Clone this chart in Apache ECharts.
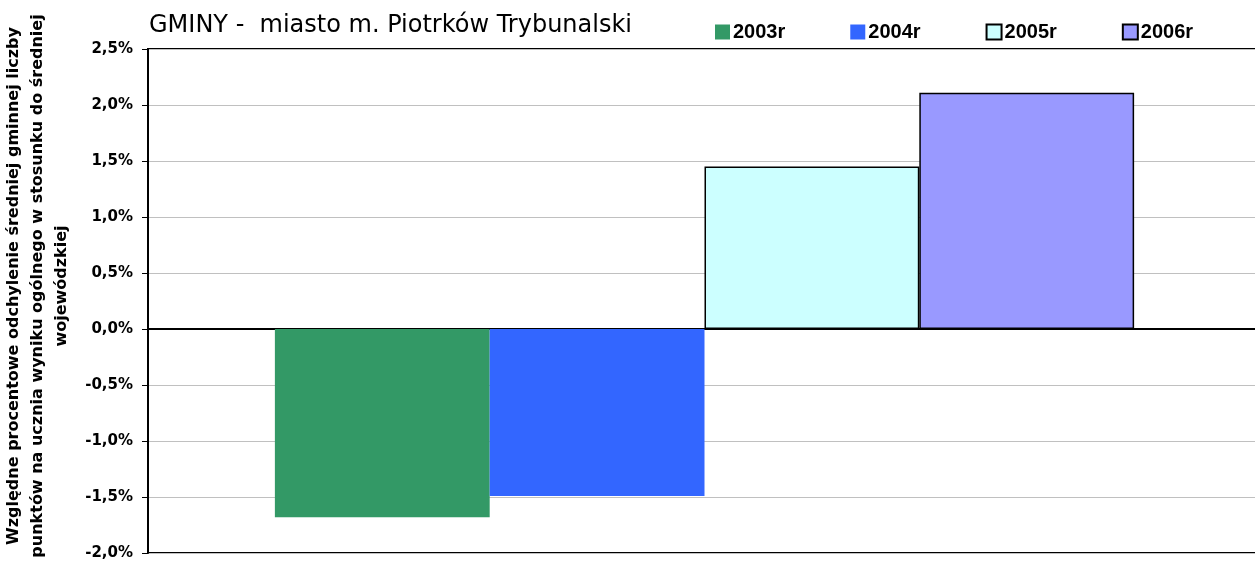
<!DOCTYPE html>
<html lang="pl">
<head>
    <meta charset="UTF-8">
    <title>GMINY - miasto m. Piotrków Trybunalski</title>
    <script src="https://cdn.jsdelivr.net/npm/echarts@6/dist/echarts.min.js"></script>
    <style>
        html, body { margin: 0; padding: 0; background: #fff; }
        #bar { width: 1255px; height: 572px; }
    </style>
</head>
<body>

<div id="bar"></div>

<script>
    // dane (odchylenie w %)
    var categories = ['miasto m. Piotrków Trybunalski'];
    var years = ['2003r', '2004r', '2005r', '2006r'];
    var val2003 = [-1.68];
    var val2004 = [-1.49];
    var val2005 = [1.45];
    var val2006 = [2.11];
    var colors = ['#339966', '#3366ff', '#ccffff', '#9999ff'];
    var bordered = [false, false, true, true];

    var seriesData = [val2003, val2004, val2005, val2006];

    var myChart = echarts.init(document.getElementById('bar'));

    var series = years.map(function (name, i) {
        return {
            name: name,
            type: 'bar',
            data: seriesData[i],
            barGap: 0,
            barCategoryGap: '22.8%',
            itemStyle: {
                color: colors[i],
                borderColor: bordered[i] ? '#000' : colors[i],
                borderWidth: bordered[i] ? 1.5 : 0
            }
        };
    });

    var option = {
        animation: false,
        title: {
            text: 'GMINY -  miasto m. Piotrków Trybunalski',
            left: 144,
            top: 9,
            textStyle: {
                fontFamily: 'DejaVu Sans',
                fontSize: 24,
                fontWeight: 'normal',
                color: '#000'
            }
        },
        legend: {
            data: years,
            left: 710,
            top: 17,
            icon: 'rect',
            itemWidth: 15,
            itemHeight: 15,
            itemGap: 65,
            textStyle: {
                fontFamily: 'Liberation Sans',
                fontSize: 20,
                fontWeight: 'bold',
                color: '#000',
                padding: [0, 0, 0, -2]
            }
        },
        grid: {
            left: 148,
            right: -6,
            top: 49,
            bottom: 19,
            containLabel: false,
            outerBoundsMode: 'none',
            show: true,
            borderColor: '#000',
            borderWidth: 2
        },
        xAxis: {
            type: 'category',
            data: categories,
            axisLabel: { show: false },
            axisTick: { show: false },
            axisLine: {
                show: true,
                onZero: true,
                lineStyle: { color: '#000', width: 2 }
            }
        },
        yAxis: {
            type: 'value',
            min: -2,
            max: 2.5,
            interval: 0.5,
            name: 'Względne procentowe odchylenie średniej gminnej liczby\npunktów na ucznia wyniku ogólnego w stosunku do średniej\nwojewódzkiej',
            nameLocation: 'middle',
            nameGap: 70,
            nameRotate: 90,
            nameTextStyle: {
                fontFamily: 'DejaVu Sans',
                fontSize: 16,
                fontWeight: 'bold',
                color: '#000',
                lineHeight: 24,
                align: 'center',
                padding: [0, 0, 0, 30]
            },
            axisLine: {
                show: true,
                lineStyle: { color: '#000', width: 2 }
            },
            axisTick: {
                show: true,
                length: 6,
                lineStyle: { color: '#000', width: 1 }
            },
            axisLabel: {
                margin: 15,
                fontFamily: 'DejaVu Sans',
                fontSize: 15,
                fontWeight: 'bold',
                color: '#000',
                formatter: function (v) {
                    return v.toFixed(1).replace('.', ',') + '%';
                }
            },
            splitLine: {
                show: true,
                lineStyle: { color: '#c0c0c0', width: 1 }
            }
        },
        series: series
    };

    myChart.setOption(option);
</script>
</body>
</html>
